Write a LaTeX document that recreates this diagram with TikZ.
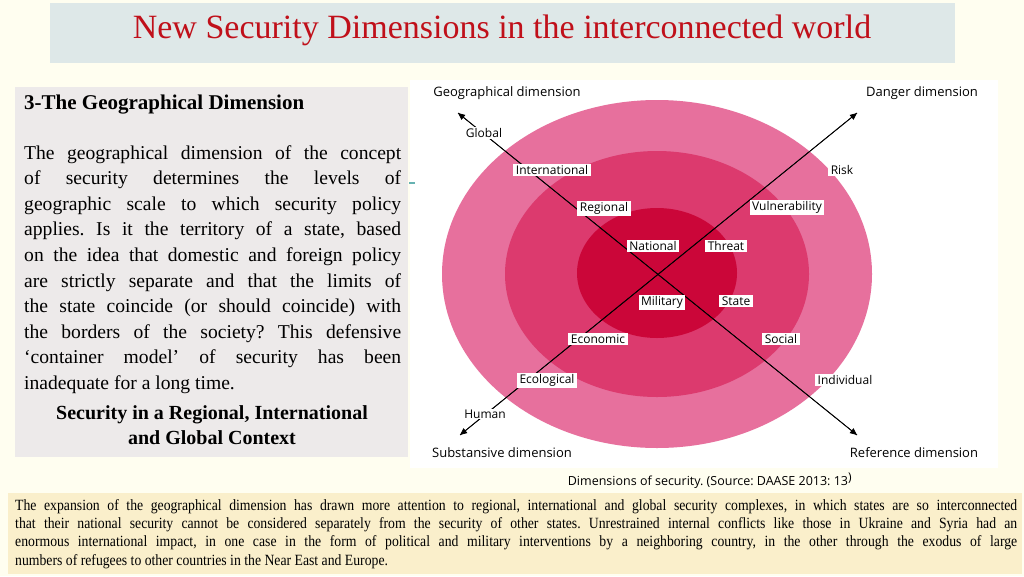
\documentclass[tikz,border=0pt]{standalone}
\usepackage{fontspec}
\setmainfont{Liberation Serif}
\newfontfamily\lab{Open Sans}
\newfontfamily\cond[FakeStretch=0.88]{Liberation Serif}
\usetikzlibrary{arrows.meta}
\hyphenpenalty=10000
\exhyphenpenalty=10000
\frenchspacing
\definecolor{ring1}{HTML}{E7709D}
\definecolor{ring2}{HTML}{DC3A6E}
\definecolor{ring3}{HTML}{CB0639}
\definecolor{titlebg}{HTML}{DEE8E8}
\definecolor{titlered}{HTML}{C0101A}
\definecolor{leftbg}{HTML}{EDEAEA}
\definecolor{botbg}{HTML}{FAEFCB}
\begin{document}
\begin{tikzpicture}[x=1pt,y=-1pt,
  lbl/.style={fill=white,inner xsep=2.5pt,inner ysep=1.5pt,font=\lab\fontsize{12}{13}\selectfont},
  plain/.style={fill=white,inner sep=1pt,font=\lab\fontsize{12}{13}\selectfont},
  hdr/.style={inner sep=0pt,font=\lab\fontsize{13}{15}\selectfont},
  axis/.style={line width=0.8pt,-{Triangle[length=7pt,width=6pt]}}]
\useasboundingbox (0,0) rectangle (1024,576);
\fill[white!94!yellow] (0,0) rectangle (1024,576);
% title
\node[fill=titlebg,minimum width=905,minimum height=60,inner sep=0pt] (title) at (502.5,33) {};
\node[text=titlered,font=\fontsize{34}{38}\selectfont] at (502,30) {New Security Dimensions in the interconnected world};
% left box
\node[fill=leftbg,minimum width=393,minimum height=370,inner sep=0pt] (left) at (211.5,272) {};
\node[anchor=west,inner sep=0pt,font=\fontsize{21}{22}\selectfont\bfseries] at (24,105) {3-The Geographical Dimension};
\node[anchor=north west,text width=377,align=justify,inner sep=0pt,font=\fontsize{19.6}{25.6}\selectfont] at (24,145)
{The geographical dimension of the concept\linebreak of security determines the levels of\linebreak geographic scale to which security policy\linebreak applies. Is it the territory of a state, based\linebreak on the idea that domestic and foreign policy\linebreak are strictly separate and that the limits of\linebreak the state coincide (or should coincide) with\linebreak the borders of the society? This defensive\linebreak `container model' of security has been\linebreak inadequate for a long time.};
\node[align=center,inner sep=0pt,font=\fontsize{20}{25.6}\selectfont\bfseries] at (212,425) {Security in a Regional, International\\and Global Context};
% diagram
\fill[white] (410,80) rectangle (998,468);
\fill[ring1] (657,274) ellipse [x radius=215,y radius=174];
\fill[ring2] (657,274) ellipse [x radius=152,y radius=123];
\fill[ring3] (657,273) ellipse [x radius=80,y radius=65];
\coordinate (tl) at (458,113);
\coordinate (br) at (857,435);
\coordinate (tr) at (857,113);
\coordinate (bl) at (460,435);
\draw[axis] (br) -- (tl);
\draw[axis] (tl) -- (br);
\draw[axis] (bl) -- (tr);
\draw[axis] (tr) -- (bl);
\node[hdr] at (507,93) {Geographical dimension};
\node[hdr] at (922,93) {Danger dimension};
\node[hdr] at (502,453) {Substansive dimension};
\node[hdr] at (914,453) {Reference dimension};
\node[plain] at (484,133) {Global};
\node[plain] at (485,414) {Human};
\node[lbl] at (552,170) {International};
\node[lbl] at (604,208) {Regional};
\node[lbl] at (653,246) {National};
\node[lbl] at (726,246) {Threat};
\node[lbl] at (662,302) {Military};
\node[lbl] at (736,301) {State};
\node[lbl] at (598,339) {Economic};
\node[lbl] at (781,339) {Social};
\node[lbl] at (547,380) {Ecological};
\node[lbl] at (845,380) {Individual};
\node[lbl] at (842,170) {Risk};
\node[lbl] at (787,207) {Vulnerability};
\draw[teal!60,line width=1.5pt] (409,183) -- (415,183);
\node[font=\lab\fontsize{12.5}{14}\selectfont,inner sep=0pt] at (710,481) {Dimensions of security. (Source: DAASE 2013: 13\textsuperscript{\large)}};
% bottom
\node[fill=botbg,minimum width=1014,minimum height=81,inner sep=0pt] (bot) at (515,533.5) {};
\node[anchor=north west,text width=1002,align=justify,inner sep=0pt,font=\cond\fontsize{15.6}{18.3}\selectfont] at (15,499)
{The expansion of the geographical dimension has drawn more attention to regional, international and global security complexes, in which states are so interconnected\linebreak that their national security cannot be considered separately from the security of other states. Unrestrained internal conflicts like those in Ukraine and Syria had an\linebreak enormous international impact, in one case in the form of political and military interventions by a neighboring country, in the other through the exodus of large\linebreak numbers of refugees to other countries in the Near East and Europe.};
\end{tikzpicture}
\end{document}
